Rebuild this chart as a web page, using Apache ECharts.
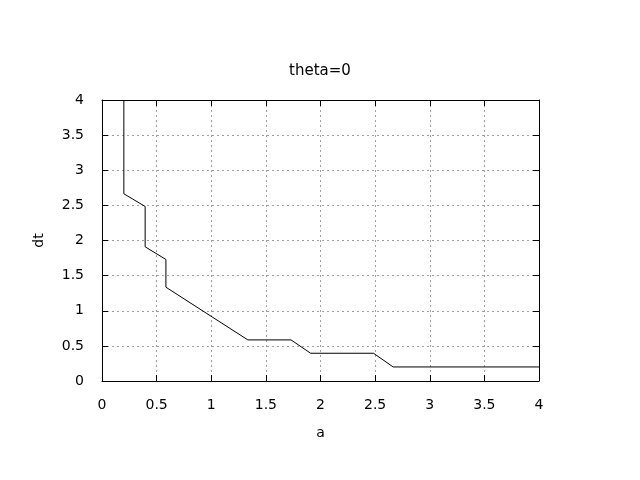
<!DOCTYPE html>
<html>
<head>
<meta charset="utf-8">
<script src="https://cdn.jsdelivr.net/npm/echarts@6/dist/echarts.min.js"></script>
<style>html,body{margin:0;padding:0;background:#fff;}#c{width:640px;height:480px;}</style>
</head>
<body>
<div id="c"></div>
<script>
const titleText = 'theta=0';
const xName = 'a';
const yName = 'dt';
const aValues  = [0.2, 0.2,   0.395, 0.395, 0.585, 0.585, 1.335, 1.73,  1.91,  2.485, 2.665, 4];
const dtValues = [4,   2.665, 2.485, 1.91,  1.73,  1.335, 0.585, 0.585, 0.395, 0.395, 0.2,   0.2];

const font = 'DejaVu Sans';
const points = aValues.map((a, i) => [a, dtValues[i]]);
const fmt = v => String(Math.round(v * 10) / 10);

const chart = echarts.init(document.getElementById('c'), null, {renderer: 'canvas'});
const axLine = () => ({show: true, onZero: false, lineStyle: {color: '#000', width: 1}});
const tickIn = () => ({show: true, inside: true, length: 6, lineStyle: {color: '#000', width: 1}});
const grid = () => ({show: true, lineStyle: {color: '#a0a0a0', type: [2, 3], width: 1}});
chart.setOption({
  animation: false,
  backgroundColor: '#fff',
  title: {
    text: titleText, left: 'center', top: 59,
    textStyle: {fontFamily: font, fontSize: 15, fontWeight: 'normal', color: '#000'}
  },
  grid: {left: 102, right: 101, top: 100, bottom: 99},
  xAxis: [{
    type: 'value', min: 0, max: 4, interval: 0.5, position: 'bottom',
    name: xName, nameLocation: 'middle', nameGap: 45,
    nameTextStyle: {fontFamily: font, fontSize: 14, color: '#000'},
    axisLine: axLine(), axisTick: tickIn(),
    axisLabel: {margin: 17, fontFamily: font, fontSize: 14, color: '#000', formatter: fmt},
    splitLine: grid()
  }, {
    type: 'value', min: 0, max: 4, interval: 0.5, position: 'top',
    axisLine: axLine(), axisTick: tickIn(), axisLabel: {show: false}, splitLine: {show: false}
  }],
  yAxis: [{
    type: 'value', min: 0, max: 4, interval: 0.5, position: 'left',
    name: yName, nameLocation: 'middle', nameGap: 56,
    nameTextStyle: {fontFamily: font, fontSize: 14, color: '#000'},
    axisLine: axLine(), axisTick: tickIn(),
    axisLabel: {margin: 18, fontFamily: font, fontSize: 14, color: '#000', formatter: fmt},
    splitLine: grid()
  }, {
    type: 'value', min: 0, max: 4, interval: 0.5, position: 'right',
    axisLine: axLine(), axisTick: tickIn(), axisLabel: {show: false}, splitLine: {show: false}
  }],
  series: [{
    type: 'line', data: points, xAxisIndex: 0, yAxisIndex: 0,
    showSymbol: false, symbol: 'none',
    lineStyle: {color: '#000', width: 1}, clip: true
  }]
});
</script>
</body>
</html>
